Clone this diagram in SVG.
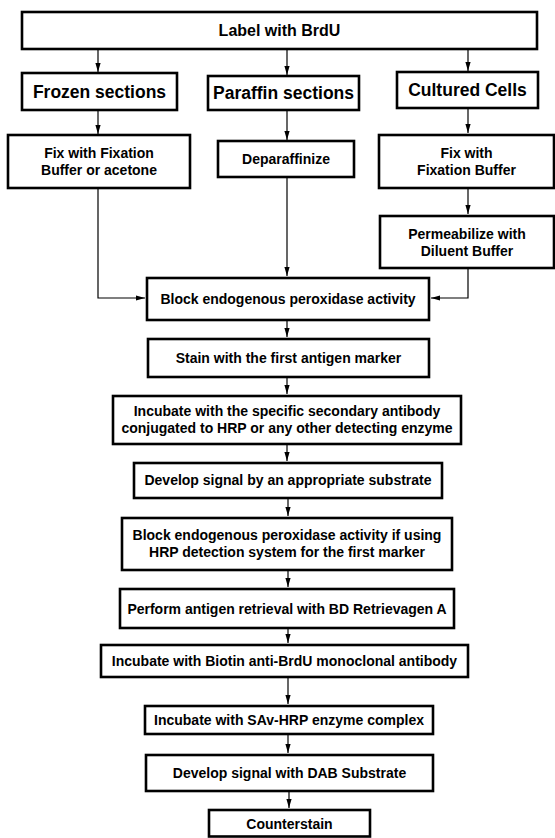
<svg xmlns="http://www.w3.org/2000/svg" width="555" height="838" viewBox="0 0 555 838">
<defs>
<style>
.box{fill:#fff;stroke:#000;stroke-width:2.6}
.t{font-family:"Liberation Sans",Arial,Helvetica,sans-serif;font-weight:bold;font-size:14px;fill:#000;text-anchor:middle}
.h{font-size:17.5px}
.top{font-size:16px}
.c{fill:none;stroke:#000;stroke-width:1.2}
</style>
<marker id="ah" markerWidth="9" markerHeight="6" refX="9" refY="2.6" orient="auto" markerUnits="userSpaceOnUse"><path d="M0,0 L9,2.6 L0,5.2 z" fill="#000"/></marker>
</defs>
<rect width="555" height="838" fill="#fff"/>
<g id="connectors">
<path class="c" marker-end="url(#ah)" d="M98,49 V72"/>
<path class="c" marker-end="url(#ah)" d="M287,49 V75"/>
<path class="c" marker-end="url(#ah)" d="M468,49 V71"/>
<path class="c" marker-end="url(#ah)" d="M98,110 V134"/>
<path class="c" marker-end="url(#ah)" d="M287,110 V140"/>
<path class="c" marker-end="url(#ah)" d="M468,108 V133"/>
<path class="c" marker-end="url(#ah)" d="M468,188 V214"/>
<path class="c" marker-end="url(#ah)" d="M98,188 V298 H145"/>
<path class="c" marker-end="url(#ah)" d="M287,177 V276"/>
<path class="c" marker-end="url(#ah)" d="M468,268 V298 H431"/>
<path class="c" marker-end="url(#ah)" d="M287,320 V337"/>
<path class="c" marker-end="url(#ah)" d="M287,377 V394"/>
<path class="c" marker-end="url(#ah)" d="M287,444 V461"/>
<path class="c" marker-end="url(#ah)" d="M288,498 V516"/>
<path class="c" marker-end="url(#ah)" d="M288,570 V587"/>
<path class="c" marker-end="url(#ah)" d="M288,628 V643"/>
<path class="c" marker-end="url(#ah)" d="M288,677 V704"/>
<path class="c" marker-end="url(#ah)" d="M288,734 V753"/>
<path class="c" marker-end="url(#ah)" d="M289,791 V808"/>
</g>
<g id="label"><rect class="box" x="22" y="12" width="515" height="37"/><text class="t top" x="279.5" y="36">Label with BrdU</text></g>
<g id="frozen"><rect class="box" x="22" y="73" width="155" height="37"/><text class="t h" x="99.5" y="97.5">Frozen sections</text></g>
<g id="paraffin"><rect class="box" x="208" y="76" width="151" height="34"/><text class="t h" x="283.5" y="99">Paraffin sections</text></g>
<g id="cultured"><rect class="box" x="397" y="72" width="141" height="36"/><text class="t h" x="467.5" y="96">Cultured Cells</text></g>
<g id="fix1"><rect class="box" x="8" y="135" width="182" height="53"/><text class="t" x="99" y="158">Fix with Fixation</text><text class="t" x="99" y="175">Buffer or acetone</text></g>
<g id="deparaffinize"><rect class="box" x="218" y="141" width="136" height="36"/><text class="t" x="286" y="164">Deparaffinize</text></g>
<g id="fix2"><rect class="box" x="379" y="135" width="175" height="53"/><text class="t" x="466.5" y="158">Fix with</text><text class="t" x="466.5" y="175">Fixation Buffer</text></g>
<g id="permeabilize"><rect class="box" x="380" y="216" width="174" height="52"/><text class="t" x="467" y="239">Permeabilize with</text><text class="t" x="467" y="256">Diluent Buffer</text></g>
<g id="block1"><rect class="box" x="147" y="278" width="282" height="42"/><text class="t" x="288" y="304">Block endogenous peroxidase activity</text></g>
<g id="stain"><rect class="box" x="148" y="339" width="281" height="38"/><text class="t" x="288.5" y="363">Stain with the first antigen marker</text></g>
<g id="incubate1"><rect class="box" x="113" y="396" width="348" height="48"/><text class="t" x="287" y="416">Incubate with the specific secondary antibody</text><text class="t" x="287" y="433">conjugated to HRP or any other detecting enzyme</text></g>
<g id="develop1"><rect class="box" x="134" y="463" width="308" height="35"/><text class="t" x="288" y="485">Develop signal by an appropriate substrate</text></g>
<g id="block2"><rect class="box" x="122" y="518" width="330" height="52"/><text class="t" x="287" y="540">Block endogenous peroxidase activity if using</text><text class="t" x="287" y="557">HRP detection system for the first marker</text></g>
<g id="retrieval"><rect class="box" x="120" y="589" width="334" height="39"/><text class="t" x="287" y="613.5">Perform antigen retrieval with BD Retrievagen A</text></g>
<g id="biotin"><rect class="box" x="101" y="645" width="367" height="32"/><text class="t" x="284.5" y="666">Incubate with Biotin anti-BrdU monoclonal antibody</text></g>
<g id="sav"><rect class="box" x="145" y="706" width="288" height="28"/><text class="t" x="289" y="725">Incubate with SAv-HRP enzyme complex</text></g>
<g id="dab"><rect class="box" x="146" y="755" width="287" height="36"/><text class="t" x="289.5" y="778">Develop signal with DAB Substrate</text></g>
<g id="counterstain"><rect class="box" x="209" y="810" width="161" height="26.5"/><text class="t" x="289.5" y="829">Counterstain</text></g>
</svg>
